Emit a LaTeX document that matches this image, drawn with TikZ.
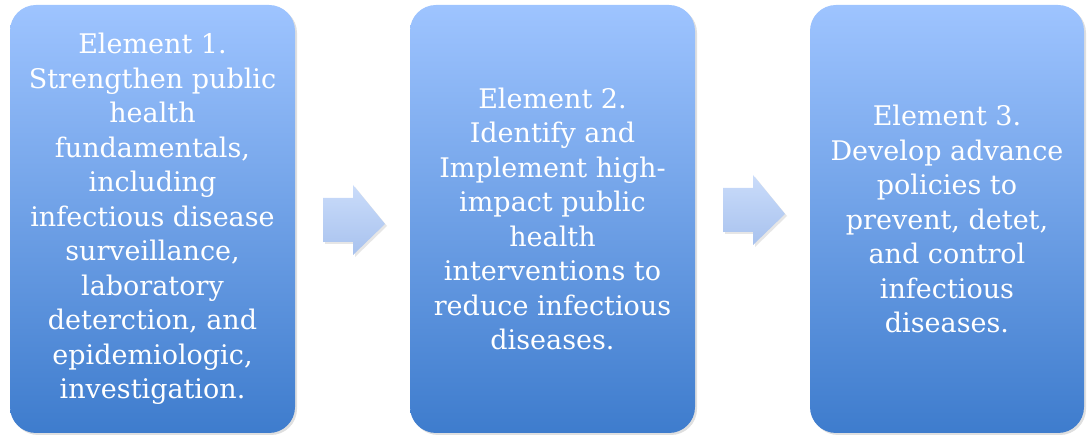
\documentclass[tikz,border=0pt]{standalone}
\usepackage{fontspec}
\setmainfont{DejaVu Serif}
\usetikzlibrary{shadows}
\definecolor{elemtop}{RGB}{158,196,255}
\definecolor{elembot}{RGB}{62,124,205}
\definecolor{arrtop}{RGB}{202,220,250}
\definecolor{arrbot}{RGB}{168,194,238}
\tikzset{
  element node/.style={
    rounded corners=26,
    top color=elemtop,
    bottom color=elembot,
    draw=none,
    align=center,
    text=white,
    minimum width=285,
    minimum height=428,
    inner sep=0pt,
    font=\fontsize{27}{34.5}\selectfont,
    drop shadow={opacity=0.25, shadow xshift=2pt, shadow yshift=-2pt},
  },
  block arrow/.style={
    top color=arrtop,
    bottom color=arrbot,
    draw=none,
    drop shadow={opacity=0.2, shadow xshift=2pt, shadow yshift=-2pt},
  },
}

\begin{document}
\begin{tikzpicture}[x=1pt, y=1pt]
        \useasboundingbox (0,0) rectangle (1087,435);

        \node[element node] (e1) at ( 152.5,216) {Element 1.\\Strengthen public\\health\\fundamentals,\\including\\infectious disease\\surveillance,\\laboratory\\deterction, and\\epidemiologic,\\investigation.};
        \node[element node] (e2) at ( 552.5,216) {Element 2.\\Identify and\\Implement high-\\impact public\\health\\interventions to\\reduce infectious\\diseases.};
        \node[element node, minimum width=274] (e3) at (947,216) {Element 3.\\Develop advance\\policies to\\prevent, detet,\\and control\\infectious\\diseases.};

        \coordinate (a1) at (385,211);
        \coordinate (a2) at (785,221);

        % block arrows between the elements
        \path[block arrow] (a1) -- ++(-32,39) -- ++(0,-13) -- ++(-30,0) -- ++(0,-44) -- ++(30,0) -- ++(0,-13) -- cycle;
        \path[block arrow] (a2) -- ++(-32,39) -- ++(0,-13) -- ++(-30,0) -- ++(0,-44) -- ++(30,0) -- ++(0,-13) -- cycle;
\end{tikzpicture}
\end{document}
